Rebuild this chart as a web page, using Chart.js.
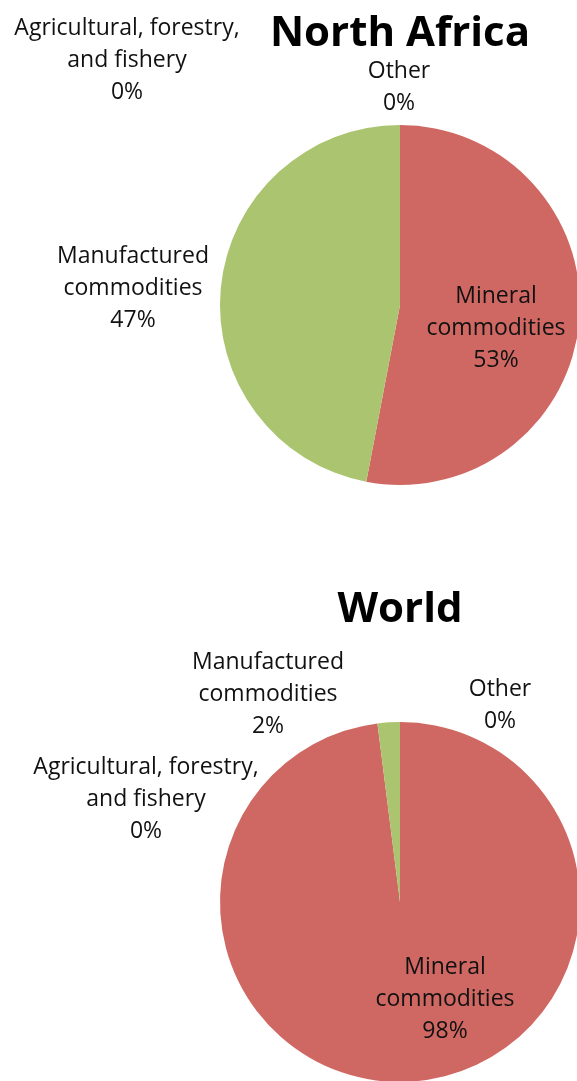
<!DOCTYPE html>
<html>
<head>
<meta charset="utf-8">
<script src="https://cdn.jsdelivr.net/npm/chart.js@4"></script>
<style>
    html, body { margin: 0; padding: 0; background: #fff; overflow: hidden; }
    body { width: 577px; height: 1081px; position: relative; }
    .pie { position: absolute; left: 0; width: 800px; }
    #pie-na { top: 0; height: 540px; }
    #pie-world { top: 540px; height: 560px; }
</style>
</head>
<body>
<div class="pie" id="pie-na"><canvas id="chart-na"></canvas></div>
<div class="pie" id="pie-world"><canvas id="chart-world"></canvas></div>
<script>
    // Export shares by commodity group (%)
    const categories = ['Mineral commodities', 'Manufactured commodities', 'Agricultural, forestry, and fishery', 'Other'];
    const northAfrica = [53, 47, 0, 0];
    const world = [98, 2, 0, 0];
    const sliceColors = ['#cf6862', '#abc46f', '#7e9ec9', '#8e7cc3'];

    const FONT = '"Open Sans", "DejaVu Sans", sans-serif';

    // label lines per category, and where each block sits (offset from pie centre, px)
    const labelLines = [
        ['Mineral', 'commodities'],
        ['Manufactured', 'commodities'],
        ['Agricultural, forestry,', 'and fishery'],
        ['Other']
    ];

    const naLabelPos = [[96, -9], [-267, -49], [-273, -277], [-1, -234]];
    const worldLabelPos = [[45, 65], [-132, -240], [-254, -135], [100, -213]];

    const pieLabels = {
        id: 'pieLabels',
        afterDatasetsDraw(chart, args, opts) {
            const ctx = chart.ctx;
            const arc = chart.getDatasetMeta(0).data[0];
            const cx = arc.x, cy = arc.y;
            const values = chart.data.datasets[0].data;
            const lh = 32;
            ctx.save();
            ctx.font = '23px ' + FONT;
            ctx.fillStyle = '#111';
            ctx.textAlign = 'center';
            ctx.textBaseline = 'middle';
            values.forEach((v, i) => {
                const lines = labelLines[i].concat([v + '%']);
                const [dx, dy] = opts.pos[i];
                lines.forEach((t, k) => {
                    ctx.fillText(t, cx + dx, cy + dy + k * lh);
                });
            });
            ctx.restore();
        }
    };

    function makePie(canvasId, title, values, pos, titlePad, bottomPad) {
        new Chart(document.getElementById(canvasId), {
            type: 'pie',
            data: {
                labels: categories,
                datasets: [{
                    data: values,
                    backgroundColor: sliceColors,
                    borderWidth: 0
                }]
            },
            options: {
                responsive: true,
                maintainAspectRatio: false,
                animation: false,
                layout: { padding: { left: 220, right: 220, top: 0, bottom: bottomPad } },
                plugins: {
                    legend: { display: false },
                    tooltip: { enabled: false },
                    title: {
                        display: true,
                        text: title,
                        color: '#000',
                        font: { family: FONT, size: 42, weight: 'bold', lineHeight: 1.2 },
                        padding: titlePad
                    },
                    pieLabels: { pos: pos }
                }
            },
            plugins: [pieLabels]
        });
    }

    makePie('chart-na', 'North Africa', northAfrica, naLabelPos, { top: 9, bottom: 65.6 }, 55);
    makePie('chart-world', 'World', world, worldLabelPos, { top: 44.8, bottom: 86.8 }, 18);
</script>
</body>
</html>
